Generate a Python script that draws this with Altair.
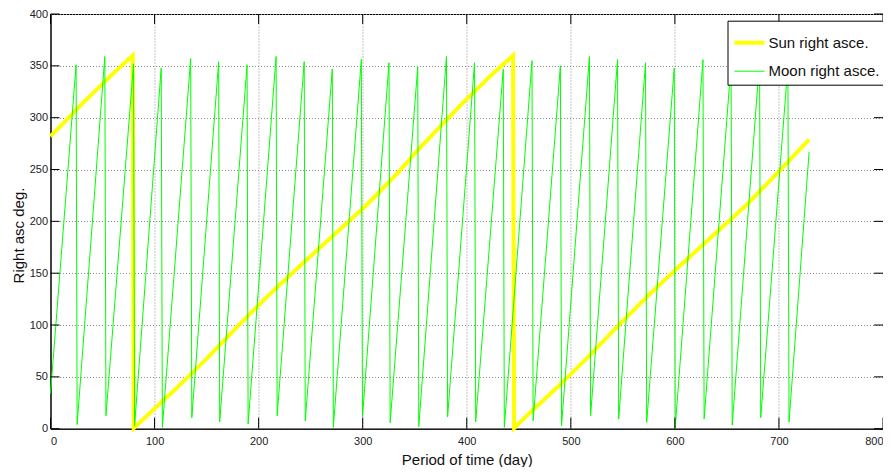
import altair as alt
import pandas as pd

# ---- data ----
sun_day = [0, 31, 59, 79, 80, 90, 120, 151, 181, 212, 243, 273, 304, 334, 354, 365,
           396, 424, 444.5, 445.5, 455, 485, 516, 546, 577, 608, 638, 669, 699, 729]
sun_ra = [282, 314, 341.5, 360, 0.5, 10, 38, 68.5, 100, 131, 160, 187.5, 216, 247, 270, 281.5,
          314, 341.5, 360, 0.5, 10, 38, 68.5, 100, 131, 160, 187.5, 216, 247, 279]

moon_day = [0, 24.6, 25.6, 52.2, 53.3, 79.8, 80.8, 106.4, 107.5, 134.7, 135.8, 161.6, 162.6,
            188.9, 189.9, 216.8, 217.8, 243.8, 244.8, 270.8, 271.8, 298.7, 299.8, 325.3, 326.4,
            352.9, 353.9, 380.5, 381.6, 407.5, 408.6, 435.1, 436.1, 462.7, 463.8, 490.0, 491.1,
            517.9, 519.0, 544.9, 546.0, 571.8, 572.9, 599.4, 600.3, 627.0, 628.1, 654.0, 655.1,
            681.4, 682.5, 708.6, 709.7, 729]
moon_ra = [34, 351, 4, 359, 12.5, 352, 3, 348, 1.3, 357, 10.6, 354, 6.7, 351, 4.5, 359, 12.5,
           354, 7.4, 347, 1.3, 356, 11.5, 353, 5.8, 349, 2, 359, 11.5, 353, 6.7, 347, 1.3,
           355, 7.7, 350, 2.9, 359, 12.5, 356, 9.3, 353, 6.1, 348, 0.4, 356, 9.3, 352, 3.5,
           355, 10.6, 350, 6.4, 267]

series_names = ["Sun right asce.", "Moon right asce."]
series_colors = ["#FFFF00", "#00FF00"]
series_widths = [4, 1]

x_ticks = [0, 100, 200, 300, 400, 500, 600, 700, 800]
y_ticks = [0, 50, 100, 150, 200, 250, 300, 350, 400]

sun = pd.DataFrame({"day": sun_day, "ra": sun_ra, "series": series_names[0],
                    "k": list(range(len(sun_day)))})
moon = pd.DataFrame({"day": moon_day, "ra": moon_ra, "series": series_names[1],
                     "k": list(range(len(moon_day)))})

PAD_L, PAD_T = 42.5, 6
W, H = 832.5, 414.7
SVG_W, SVG_H = 875, 459
FONT = "Liberation Sans"

xscale = alt.Scale(domain=[0, 800], nice=False, zero=False)
yscale = alt.Scale(domain=[0, 400], nice=False, zero=False)

xaxis = alt.Axis(values=x_ticks, title="Period of time (day)", grid=True, format="d",
                 titleX=W / 2, titleY=31, titleBaseline="middle", labelPadding=7)
yaxis = alt.Axis(values=y_ticks, title="Right asc deg.", grid=True, format="d",
                 titleX=-32.5, titleY=221, titleBaseline="middle", titleAlign="center",
                 titleAngle=270, labelPadding=3)

leg = alt.Legend(title=None, orient="none", legendX=677, legendY=6.7)
color = alt.Color("series:N", scale=alt.Scale(domain=series_names, range=series_colors), legend=leg)
swidth = alt.StrokeWidth("series:N", scale=alt.Scale(domain=series_names, range=series_widths), legend=leg)

sun_line = alt.Chart(sun).mark_line().encode(
    x=alt.X("day:Q", scale=xscale, axis=xaxis),
    y=alt.Y("ra:Q", scale=yscale, axis=yaxis),
    color=color, strokeWidth=swidth, order="k:Q")
moon_line = alt.Chart(moon).mark_line().encode(
    x=alt.X("day:Q", scale=xscale, axis=xaxis),
    y=alt.Y("ra:Q", scale=yscale, axis=yaxis),
    color=color, strokeWidth=swidth, order="k:Q")

xt = pd.DataFrame({"day": x_ticks})
yt = pd.DataFrame({"ra": y_ticks})
bottom_ticks = alt.Chart(xt).mark_rule(color="black", strokeWidth=1).encode(
    x=alt.X("day:Q", scale=xscale), y=alt.value(H), y2=alt.value(H - 11))
top_ticks = alt.Chart(xt).mark_rule(color="black", strokeWidth=1).encode(
    x=alt.X("day:Q", scale=xscale), y=alt.value(0), y2=alt.value(10))
left_ticks = alt.Chart(yt).mark_rule(color="black", strokeWidth=1).encode(
    y=alt.Y("ra:Q", scale=yscale), x=alt.value(0), x2=alt.value(9))
right_ticks = alt.Chart(yt).mark_rule(color="black", strokeWidth=1).encode(
    y=alt.Y("ra:Q", scale=yscale), x=alt.value(W - 9), x2=alt.value(W))

chart = alt.layer(sun_line, moon_line, bottom_ticks, top_ticks, left_ticks, right_ticks).properties(
    width=W, height=H,
    autosize=alt.AutoSizeParams(type="none"),
    padding={"left": PAD_L, "top": PAD_T, "right": SVG_W - PAD_L - W, "bottom": SVG_H - PAD_T - H},
).configure_view(
    stroke="black", strokeWidth=1
).configure_axis(
    domainColor="black", domainWidth=1, tickSize=0,
    labelFont=FONT, labelFontSize=11, labelColor="#222222",
    titleFont=FONT, titleFontSize=15, titleFontWeight="normal", titleColor="#111111",
    gridColor="#8a8a8a", gridDash=[1, 2], gridOpacity=1, gridWidth=1,
).configure_legend(
    fillColor="white", strokeColor="black", strokeWidth=1, cornerRadius=0,
    padding=5, rowPadding=5, labelFont=FONT, labelFontSize=15, labelColor="#111111",
    symbolType="stroke", symbolSize=900, labelOffset=2, labelLimit=300,
)

chart.save("out.html", embed_options={"renderer": "svg", "actions": False})
